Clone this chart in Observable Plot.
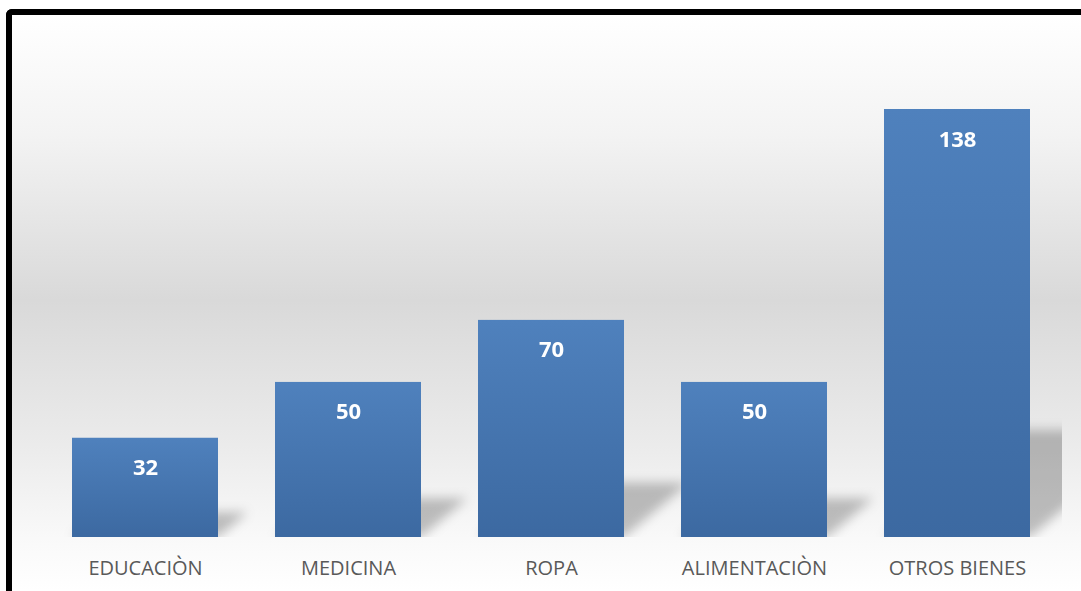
<!DOCTYPE html>
<html>
<head>
<meta charset="utf-8">
<script src="https://cdn.jsdelivr.net/npm/d3@7"></script>
<script src="https://cdn.jsdelivr.net/npm/@observablehq/plot@0.6"></script>
<style>
  html, body { margin: 0; padding: 0; width: 1081px; height: 591px; overflow: hidden; background: #fff; }
  #frame {
    position: absolute; left: 6px; top: 9px; width: 1200px; height: 700px;
    border-left: 6px solid #000; border-top: 6px solid #000; border-top-left-radius: 6px;
    background: linear-gradient(to bottom, #ffffff 0px, #f3f3f3 120px, #d9d9d9 285px, #ebebeb 430px, #fafafa 530px, #ffffff 576px, #ffffff 700px);
  }
  #chart { position: absolute; left: 0; top: 0; }
</style>
</head>
<body>
<div id="frame"></div>
<div id="chart"></div>
<script>
const categories = ["EDUCACIÒN", "MEDICINA", "ROPA", "ALIMENTACIÒN", "OTROS BIENES"];
const values = [32, 50, 70, 50, 138];
const data = categories.map((c, i) => ({cat: c, value: values[i]}));

const chart = Plot.plot({
  width: 1081,
  height: 591,
  marginLeft: 40,
  marginRight: 19,
  marginTop: 109,
  marginBottom: 54,
  style: {background: "transparent", fontFamily: "'Open Sans', sans-serif", color: "#595959", overflow: "visible"},
  x: {domain: categories, paddingInner: 0.28, paddingOuter: 0.15, label: null},
  y: {domain: [0, 138], axis: null},
  marks: [
    Plot.barY(data, {x: "cat", y: d => d.value * 0.25, fill: "#000", fillOpacity: 0.24, clip: true}),
    Plot.barY(data, {x: "cat", y: "value", fill: "url(#barGrad)"}),
    Plot.text(data, {x: "cat", y: "value", text: d => String(d.value), dy: 30, fill: "white", fontWeight: "bold", fontSize: 22}),
    Plot.axisX({tickSize: 0, tickPadding: 23, fontSize: 20, label: null})
  ]
});

const svg = d3.select(chart);
const defs = svg.insert("defs", ":first-child");
const g = defs.append("linearGradient").attr("id", "barGrad").attr("x1", 0).attr("y1", 0).attr("x2", 0).attr("y2", 1);
g.append("stop").attr("offset", "0%").attr("stop-color", "#4f81bd");
g.append("stop").attr("offset", "100%").attr("stop-color", "#3c69a1");
const f = defs.append("filter").attr("id", "shadowBlur").attr("x", "-50%").attr("y", "-50%").attr("width", "200%").attr("height", "200%");
f.append("feGaussianBlur").attr("stdDeviation", 5.5);

const y0 = chart.scale("y").apply(0);
const shadowGroup = svg.selectAll('g[aria-label="bar"]').filter((d, i) => i === 0);
const inner = shadowGroup.select("g");
const target = inner.empty() ? shadowGroup : inner;
target.attr("filter", "url(#shadowBlur)");
shadowGroup.selectAll("rect").attr("transform", `translate(0,${y0}) skewX(-50) translate(0,${-y0})`);

document.getElementById("chart").appendChild(chart);
</script>
</body>
</html>
